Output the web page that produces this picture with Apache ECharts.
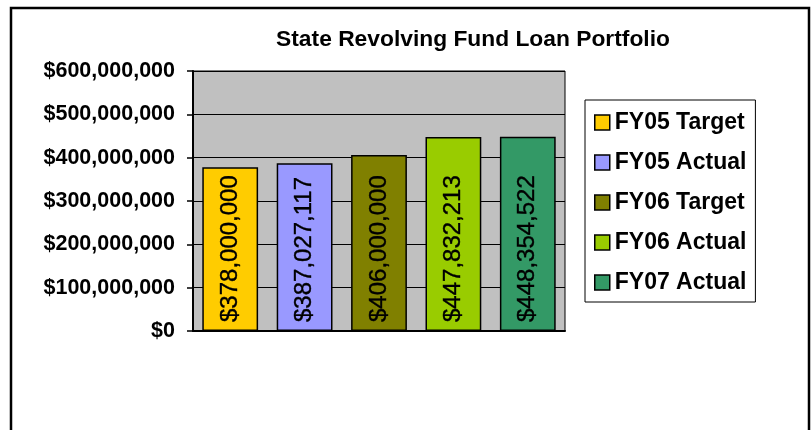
<html>
<head>
    <meta charset="utf-8">
    <title>State Revolving Fund Loan Portfolio</title>
    <script src="https://cdn.jsdelivr.net/npm/echarts@6/dist/echarts.min.js"></script>
    <style>
        body { margin: 0; background: #fff; }
        #main { width: 812px; height: 430px; }
    </style>
</head>
<body>
<div id="main"></div>
<script>
    // data
    var categories = ['FY05 Target', 'FY05 Actual', 'FY06 Target', 'FY06 Actual', 'FY07 Actual'];
    var values = [378000000, 387027117, 406000000, 447832213, 448354522];
    var colors = ['#FFCC00', '#9999FF', '#808000', '#99CC00', '#339966'];
    var yTicks = [0, 100000000, 200000000, 300000000, 400000000, 500000000, 600000000];

    var font = "'Liberation Sans', Arial, sans-serif";

    function money(v) {
        return '$' + String(Math.round(v)).replace(/\B(?=(\d{3})+(?!\d))/g, ',');
    }

    var myChart = echarts.init(document.getElementById('main'));

    // one series per bar so the legend gets one entry per bar
    var series = categories.map(function (name, i) {
        return {
            name: name,
            type: 'bar',
            stack: 'all',
            barWidth: '75%',
            data: categories.map(function (c, j) { return j === i ? values[i] : '-'; }),
            itemStyle: { color: colors[i], borderColor: '#000', borderWidth: 1.5 },
            label: {
                show: true,
                position: 'insideBottom',
                distance: 9,
                rotate: 90,
                align: 'left',
                verticalAlign: 'middle',
                color: '#000',
                fontFamily: font,
                fontSize: 24,
                textBorderColor: '#000',
                textBorderWidth: 0.4,
                formatter: function (p) { return money(p.value); }
            },
            emphasis: { disabled: true }
        };
    });

    var option = {
        animation: false,
        textStyle: { fontFamily: font },
        title: {
            text: 'State Revolving Fund Loan Portfolio',
            left: 473,
            textAlign: 'center',
            top: 28,
            padding: 0,
            textStyle: { fontFamily: font, fontSize: 22.8, fontWeight: 'bold', color: '#000' }
        },
        graphic: [{
            type: 'rect',
            shape: { x: 11, y: 8, width: 798, height: 500 },
            style: { fill: 'none', stroke: '#000', lineWidth: 2.5 },
            silent: true
        }],
        legend: {
            data: categories,
            orient: 'vertical',
            left: 585,
            top: 100,
            icon: 'rect',
            itemWidth: 15,
            itemHeight: 15,
            itemGap: 17,
            itemTextGap: 12,
            padding: [11, 9, 8, 9],
            borderColor: '#000',
            borderWidth: 1,
            backgroundColor: '#fff',
            itemStyle: { borderColor: '#000', borderWidth: 1.5 },
            textStyle: { fontFamily: font, fontSize: 23, fontWeight: 'bold', color: '#000' },
            selectedMode: false
        },
        grid: {
            left: 193,
            top: 71,
            width: 372,
            height: 260,
            show: true,
            backgroundColor: '#C0C0C0',
            borderColor: '#000',
            borderWidth: 1
        },
        xAxis: {
            type: 'category',
            data: categories,
            axisLine: { lineStyle: { color: '#000', width: 2 } },
            axisTick: { show: false },
            axisLabel: { show: false }
        },
        yAxis: {
            type: 'value',
            min: yTicks[0],
            max: yTicks[yTicks.length - 1],
            interval: yTicks[1] - yTicks[0],
            axisLine: { show: true, lineStyle: { color: '#000', width: 2 } },
            axisTick: { show: true, length: 6, lineStyle: { color: '#000', width: 1.5 } },
            splitLine: { lineStyle: { color: '#000', width: 1 } },
            axisLabel: {
                margin: 18,
                color: '#000',
                fontFamily: font,
                fontSize: 21.5,
                fontWeight: 'bold',
                formatter: function (v) { return money(v); }
            }
        },
        series: series
    };

    myChart.setOption(option);
</script>
</body>
</html>
